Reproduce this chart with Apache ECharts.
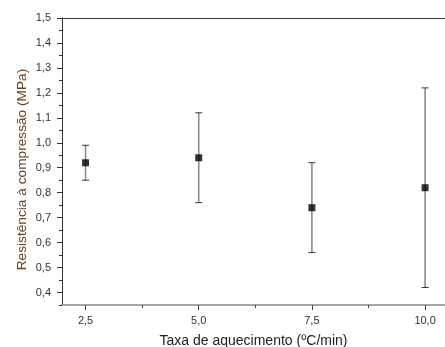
<!DOCTYPE html>
<html>
<head>
<meta charset="utf-8">
<script src="https://cdn.jsdelivr.net/npm/echarts@6/dist/echarts.min.js"></script>
<style>html,body{margin:0;padding:0;background:#fff}#c{width:445px;height:347px}</style>
</head>
<body>
<div id="c"></div>
<script>
const rates = [2.5, 5.0, 7.5, 10.0];
const means = [0.92, 0.94, 0.74, 0.82];
const lows = [0.85, 0.76, 0.56, 0.42];
const highs = [0.99, 1.12, 0.92, 1.22];
const yTicks = [0.4, 0.5, 0.6, 0.7, 0.8, 0.9, 1.0, 1.1, 1.2, 1.3, 1.4, 1.5];
const yMinorTicks = [0.35, 0.45, 0.55, 0.65, 0.75, 0.85, 0.95, 1.05, 1.15, 1.25, 1.35, 1.45];
const xTicks = [2.5, 5.0, 7.5, 10.0];
const xMinorTicks = [3.75, 6.25, 8.75];
const xTitle = 'Taxa de aquecimento (ºC/min)';
const yTitle = 'Resistência à compressão (MPa)';

const fmt = v => Number(v).toFixed(1).replace('.', ',');
const FF = 'Liberation Sans, Arial, sans-serif';
const labelFont = {fontFamily: FF, fontSize: 11, color: '#303040'};

const chart = echarts.init(document.getElementById('c'));
chart.setOption({
  animation: false,
  grid: {left: 62, top: 18, right: 0, bottom: 42, containLabel: false, outerBoundsMode: 'none'},
  graphic: [{
    type: 'text',
    rotation: Math.PI / 2,
    x: 22.5, y: 169.5,
    style: {text: yTitle, font: '13.7px ' + FF, fill: '#6b3f1f', textAlign: 'center', textVerticalAlign: 'middle'}
  }],
  xAxis: [
    {
      type: 'value', min: 1.98, max: 10.44, position: 'bottom',
      name: xTitle, nameLocation: 'middle', nameGap: 29,
      nameTextStyle: {fontFamily: FF, fontSize: 14, color: '#222'},
      axisLine: {show: true, onZero: false, lineStyle: {color: '#888', width: 1.5}},
      axisTick: {show: true, customValues: xTicks, length: 5, lineStyle: {color: '#444'}},
      axisLabel: Object.assign({customValues: xTicks, formatter: fmt, margin: 10}, labelFont),
      splitLine: {show: false}
    },
    {
      type: 'value', min: 1.98, max: 10.44, position: 'bottom',
      axisLine: {show: false},
      axisTick: {show: true, customValues: xMinorTicks, length: 3, lineStyle: {color: '#444'}},
      axisLabel: {show: false}, splitLine: {show: false}
    },
    {
      type: 'value', min: 1.98, max: 10.44, position: 'top',
      axisLine: {show: true, lineStyle: {color: '#333', width: 1}},
      axisTick: {show: false}, axisLabel: {show: false}, splitLine: {show: false}
    }
  ],
  yAxis: [
    {
      type: 'value', min: 0.35, max: 1.5, position: 'left',
      axisLine: {show: true, onZero: false, lineStyle: {color: '#333', width: 1}},
      axisTick: {show: true, customValues: yTicks, length: 5, lineStyle: {color: '#333'}},
      axisLabel: Object.assign({customValues: yTicks, formatter: fmt, margin: 11}, labelFont),
      splitLine: {show: false}
    },
    {
      type: 'value', min: 0.35, max: 1.5, position: 'left',
      axisLine: {show: false},
      axisTick: {show: true, customValues: yMinorTicks, length: 3, lineStyle: {color: '#333'}},
      axisLabel: {show: false}, splitLine: {show: false}
    }
  ],
  series: [
    {
      type: 'custom', xAxisIndex: 0, yAxisIndex: 0,
      data: rates.map((r, i) => [r, lows[i], highs[i]]),
      renderItem: function (params, api) {
        const lo = api.coord([api.value(0), api.value(1)]);
        const hi = api.coord([api.value(0), api.value(2)]);
        const hw = 3.5;
        return {
          type: 'group',
          children: [
            {type: 'line', shape: {x1: lo[0], y1: lo[1], x2: hi[0], y2: hi[1]}, style: {stroke: '#8c8c8c', lineWidth: 1.6}},
            {type: 'line', shape: {x1: lo[0] - hw, y1: lo[1], x2: lo[0] + hw, y2: lo[1]}, style: {stroke: '#333', lineWidth: 1}},
            {type: 'line', shape: {x1: hi[0] - hw, y1: hi[1], x2: hi[0] + hw, y2: hi[1]}, style: {stroke: '#333', lineWidth: 1}}
          ]
        };
      },
      z: 2
    },
    {
      type: 'scatter', xAxisIndex: 0, yAxisIndex: 0,
      data: rates.map((r, i) => [r, means[i]]),
      symbol: 'rect', symbolSize: 7,
      itemStyle: {color: '#000'},
      z: 3
    }
  ]
});
</script>
</body>
</html>
